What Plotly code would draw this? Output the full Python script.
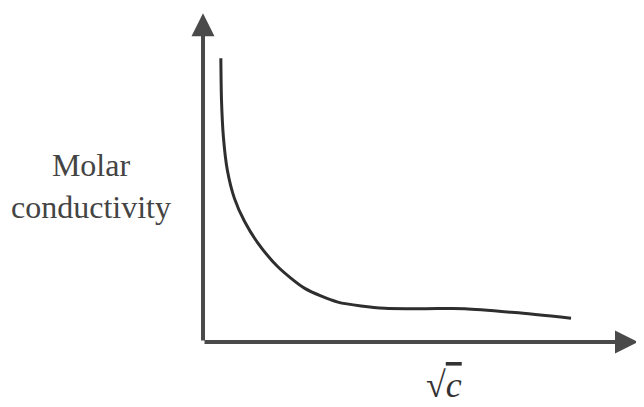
import plotly.graph_objects as go

# Curva esquemática: condutividade molar x raiz de c (unidades arbitrárias)
raiz_c = [0.41, 0.425, 0.47, 0.56, 0.72, 0.95, 1.25, 1.72, 2.34, 3.10, 4.18, 5.10, 6.02, 7.17, 8.46]
condutividade = [8.68, 7.40, 6.25, 5.25, 4.40, 3.70, 3.05, 2.30, 1.64, 1.22, 1.03, 1.02, 1.02, 0.90, 0.73]

# Fim dos eixos (setas)
eixo_x_fim = 10.0
eixo_y_fim = 10.05


def gerar_grafico():
    fig = go.Figure()

    # Curva
    fig.add_trace(go.Scatter(
        x=raiz_c,
        y=condutividade,
        mode='lines',
        line=dict(color='#2e2e2e', width=3, shape='spline', smoothing=0.7),
        hoverinfo='skip',
        showlegend=False
    ))

    # Eixos desenhados como setas
    for x_fim, y_fim in [(0, eixo_y_fim), (eixo_x_fim, 0)]:
        fig.add_annotation(
            x=x_fim, y=y_fim, ax=0, ay=0,
            xref='x', yref='y', axref='x', ayref='y',
            showarrow=True, arrowhead=2, arrowsize=1.15,
            arrowwidth=4, arrowcolor='#4a4a4a', text=''
        )

    # Rótulos
    fig.add_annotation(
        x=-2.575, y=4.77, xref='x', yref='y',
        text='Molar<br>conductivity', showarrow=False,
        font=dict(family='Liberation Serif', size=32, color='#444444'),
        align='center'
    )
    fig.add_annotation(
        x=5.55, y=-1.3, xref='x', yref='y',
        text='√<span style="text-decoration:overline"><i>c</i></span>',
        showarrow=False,
        font=dict(family='Liberation Serif', size=36, color='#333333')
    )

    # O corpo da página desloca a figura 8px; a faixa compensa isso
    fig.update_layout(
        width=644, height=407,
        margin=dict(l=0, r=0, t=0, b=0),
        plot_bgcolor='white', paper_bgcolor='white',
        xaxis=dict(range=[-4.483, 10.322], visible=False),
        yaxis=dict(range=[-2.232, 10.214], visible=False),
    )
    return fig


fig = gerar_grafico()
fig.write_html("out.html")
